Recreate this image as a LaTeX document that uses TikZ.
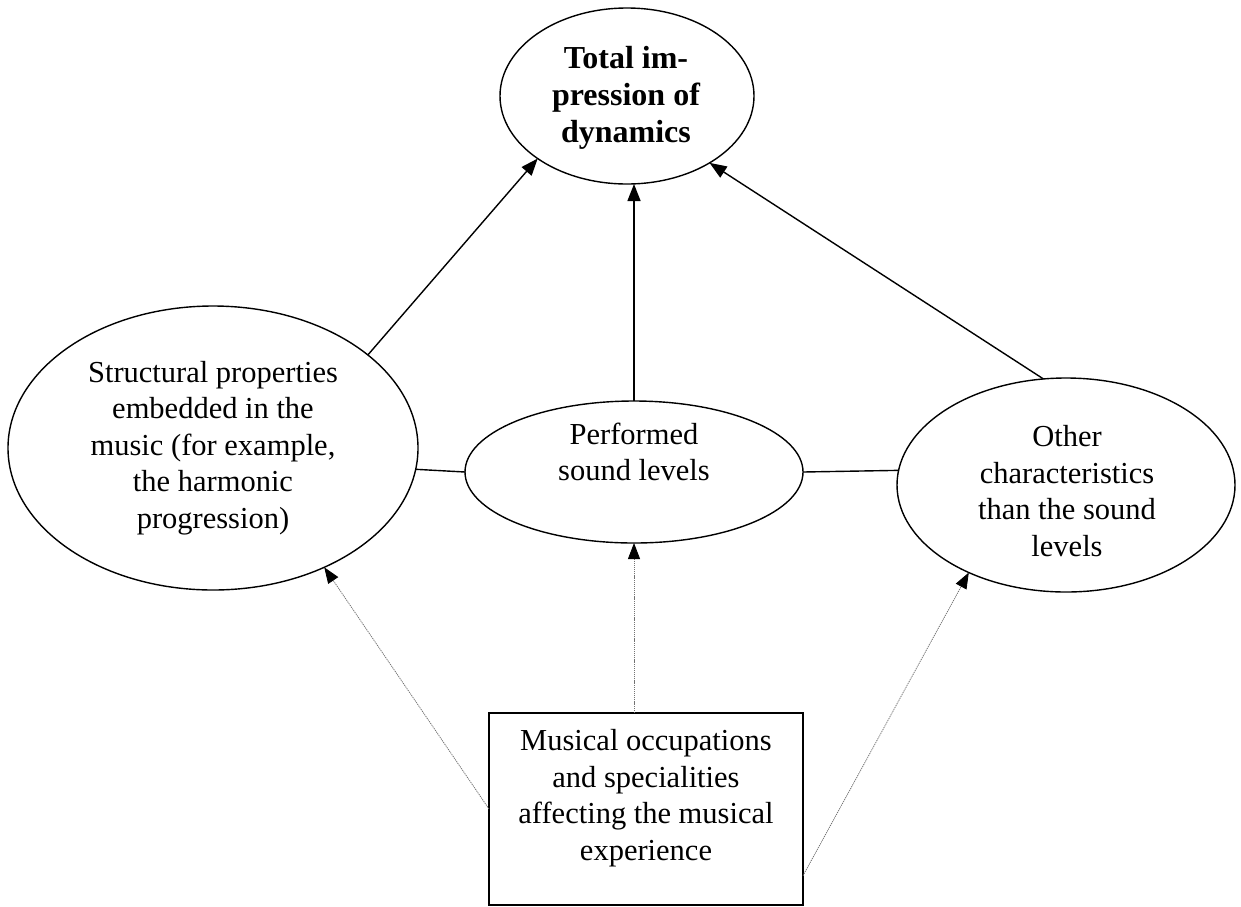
\documentclass[tikz,border=0pt]{standalone}
\usepackage{fontspec}
\setmainfont{Liberation Serif}
\usetikzlibrary{shapes.geometric,arrows.meta}
\tikzset{
  shp/.style={draw=black, line width=1.4pt, inner sep=0pt, outer sep=0pt},
  oval/.style={shp, ellipse},
  boxnode/.style={shp, rectangle},
  txt/.style={align=center, inner sep=0pt, font=\fontsize{30.5}{36.5}\selectfont},
  boldtxt/.style={align=center, inner sep=0pt, font=\fontsize{32}{37}\selectfont\bfseries},
  conn/.style={line width=1.4pt, black},
  arr/.style={conn, -{Triangle[length=17pt,width=13pt]}},
  dotarr/.style={line width=0.8pt, black!55, dash pattern=on 1.2pt off 0.9pt,
                 -{Triangle[length=16pt,width=12pt,black]}}
}
\begin{document}
\begin{tikzpicture}[x=1pt,y=-1pt]
\useasboundingbox (0,0) rectangle (1241,906);
% shapes
\node[oval, minimum width=254pt, minimum height=176pt] (T) at (627,96) {};
\node[oval, minimum width=410pt, minimum height=284pt] (L) at (213,448) {};
\node[oval, minimum width=338pt, minimum height=142pt] (M) at (634,472) {};
\node[oval, minimum width=338pt, minimum height=214pt] (R) at (1066,485) {};
\node[boxnode, minimum width=314pt, minimum height=192pt] (B) at (646,809) {};
% texts
\node[boldtxt] (tT) at (626,98) {Total im-\\pression of\\dynamics};
\node[txt] (tL) at (213,448) {Structural properties\\embedded in the\\music (for example,\\the harmonic\\progression)};
\node[txt] (tM) at (634,452) {Performed\\sound levels};
\node[txt] (tR) at (1067,491) {Other\\characteristics\\than the sound\\levels};
\node[txt] (tB) at (646,798) {Musical occupations\\and specialities\\affecting the musical\\experience};
% solid connectors
\draw[arr] (L.31.2) -- (T.215.4);
\draw[arr] (M.north) -- (M.north |- T.south);
\draw[arr] (R.102) -- (T.-39.2);
\draw[conn] (L.-6.8) -- (M.west);
\draw[conn] (M.east) -- (R.175.6);
% dotted arrows
\draw[dotarr] (B.west) -- (L.-47.9);
\draw[dotarr] (M.south |- B.north) -- (M.south);
\draw[dotarr] (B.-23.7) -- (R.222.3);
\end{tikzpicture}
\end{document}
